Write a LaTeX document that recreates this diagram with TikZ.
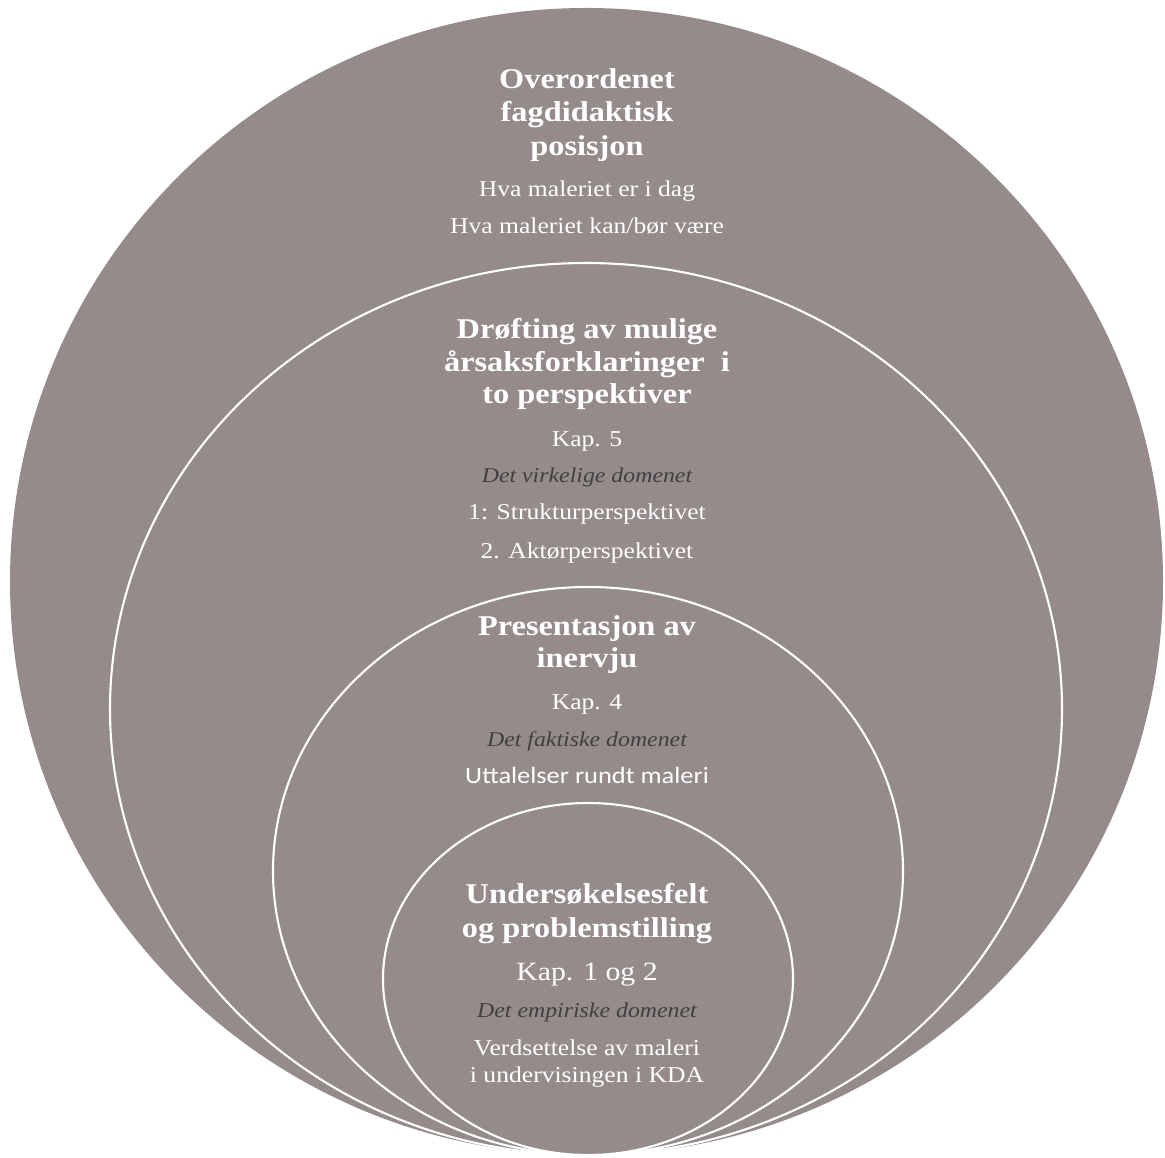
\documentclass[tikz,border=0pt]{standalone}
\usepackage{fontspec}
\setmainfont[FakeStretch=1.13]{Liberation Serif}
\newfontfamily\calibrifont[FakeStretch=1.13]{Carlito}
\usepackage{tikz}
\usetikzlibrary{positioning}
\definecolor{venngray}{HTML}{958B8A}
\definecolor{domaingray}{HTML}{404040}
\tikzset{
	venn/.style={fill=venngray,draw=white,line width=1.2pt},
	head/.style={anchor=base,inner sep=0pt,text=white,font=\bfseries\fontsize{16.3}{19}\selectfont},
	txt/.style={anchor=base,inner sep=0pt,text=white,font=\fontsize{12.9}{15}\selectfont},
	dom/.style={anchor=base,inner sep=0pt,text=domaingray,font=\itshape\fontsize{12}{14}\selectfont},
	kap/.style={txt,font=\fontsize{15}{18}\selectfont}
}

\begin{document}
\begin{tikzpicture}[x=0.02cm,y=0.02cm]
  \useasboundingbox (0,0) rectangle (1165,1157);
  % stacked circles, all touching at the bottom
  \fill[venngray] (586.5,575.5) ellipse [x radius=576.5, y radius=573.5];
  \draw[venn] (586,448) ellipse [x radius=476, y radius=446];
  \draw[venn] (588,286) ellipse [x radius=315, y radius=284];
  \draw[venn] (588,178) ellipse [x radius=205, y radius=176];
  % outer circle
  \node[head] (P1a) at (587,1068) {Overordenet};
  \node[head] (P1b) at (587,1035) {fagdidaktisk};
  \node[head] (P1c) at (587,1001) {posisjon};
  \node[txt] (P1d) at (587,960) {Hva maleriet er i dag};
  \node[txt] (P1e) at (587,923) {Hva maleriet kan/bør være};
  % second circle
  \node[head] (P2a) at (587,818) {Drøfting av mulige};
  \node[head] (P2b) at (587,785) {årsaksforklaringer\ \ i};
  \node[head] (P2c) at (587,753) {to perspektiver};
  \node[txt] (P2d) at (587,710) {Kap. 5};
  \node[dom] (P2e) at (587,674) {Det virkelige domenet};
  \node[txt] (P2f) at (587,637) {1: Strukturperspektivet};
  \node[txt] (P2g) at (587,599) {2. Aktørperspektivet};
  % third circle
  \node[head] (P3a) at (587,522) {Presentasjon av};
  \node[head] (P3b) at (587,490) {inervju};
  \node[txt] (P3c) at (587,448) {Kap. 4};
  \node[dom] (P3d) at (587,411) {Det faktiske domenet};
  \node[txt,font=\calibrifont\fontsize{13.3}{16}\selectfont] (P3e) at (587,374) {Uttalelser rundt maleri};
  % inner circle
  \node[head] (P4a) at (587,254) {Undersøkelsesfelt};
  \node[head] (P4b) at (587,220) {og problemstilling};
  \node[kap] (P4c) at (587,177) {Kap. 1 og 2};
  \node[dom] (P4d) at (587,140) {Det empiriske domenet};
  \node[txt] (P4e) at (587,102) {Verdsettelse av maleri};
  \node[txt] (P4f) at (587,75) {i undervisingen i KDA};
\end{tikzpicture}
\end{document}
